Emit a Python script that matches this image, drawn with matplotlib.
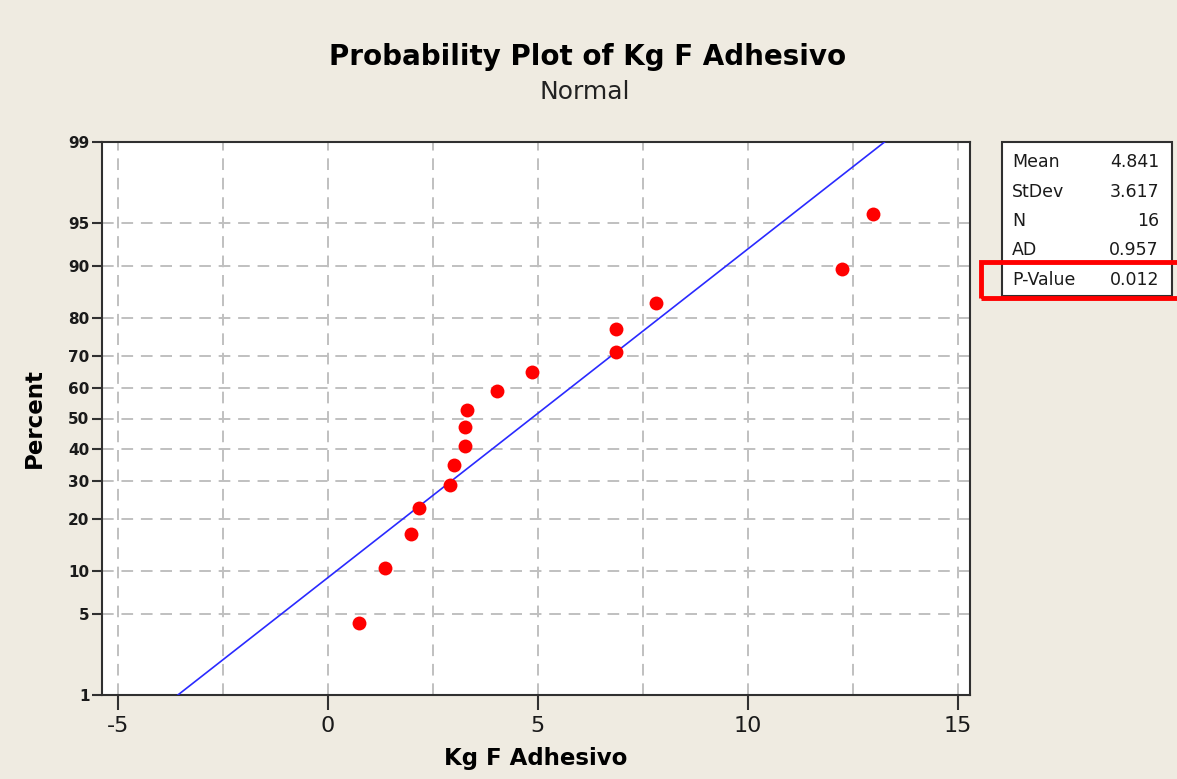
"""
Normal probability plot of Kg F Adhesivo (Minitab style) with summary box.
Writes out.png
"""

from statistics import NormalDist

import numpy as np
import matplotlib
matplotlib.use("Agg")
import matplotlib.pyplot as plt
from matplotlib.patches import Rectangle

# ---- data ----
kg_values = [0.74, 1.36, 1.98, 2.17, 2.90, 3.00, 3.26, 3.26,
             3.31, 4.02, 4.86, 6.85, 6.86, 7.81, 12.24, 12.98]
percent_values = [4.3, 10.4, 16.5, 22.6, 28.7, 34.8, 40.9, 47.0,
                  53.0, 59.1, 65.2, 71.3, 77.4, 83.5, 89.6, 95.7]

fit_mean = 4.841
fit_stdev = 3.617

stat_names = ["Mean", "StDev", "N", "AD", "P-Value"]
stat_values = ["4.841", "3.617", "16", "0.957", "0.012"]

y_ticks = [1, 5, 10, 20, 30, 40, 50, 60, 70, 80, 90, 95, 99]
x_ticks = [-5, 0, 5, 10, 15]
x_grid = [-5, -2.5, 0, 2.5, 5, 7.5, 10, 12.5, 15]

BG = "#efebe1"
W, H = 1177, 779

std = NormalDist()


def pct_to_z(p):
    return np.array([std.inv_cdf(v / 100.0) for v in np.atleast_1d(p)])


fig = plt.figure(figsize=(W / 100, H / 100), dpi=100, facecolor=BG)
plt.rcParams["font.family"] = ["DejaVu Sans"]

# axes box in pixels: x 102..970, y 142..695
ax = fig.add_axes([102 / W, 1 - 695 / H, (970 - 102) / W, (695 - 142) / H])
ax.set_facecolor("white")

z_lo, z_hi = pct_to_z([1, 99])
ax.set_xlim(-5.38, 15.29)
ax.set_ylim(z_lo, z_hi)

# grid
grid_kw = dict(color="#c0c0c0", lw=1.4, ls=(0, (6, 4)), zorder=1)
for gx in x_grid:
    ax.axvline(gx, **grid_kw)
for gy in pct_to_z(y_ticks[1:-1]):
    ax.axhline(gy, **grid_kw)

# fitted line from 1% to 99%
dist = NormalDist(fit_mean, fit_stdev)
fit_x = [dist.inv_cdf(0.01), dist.inv_cdf(0.99)]
ax.plot(fit_x, [z_lo, z_hi], color="#2a2aff", lw=1.2, zorder=3)

# data points
ax.plot(kg_values, pct_to_z(percent_values), "o", color="#ff0000",
        markersize=10, markeredgewidth=0, zorder=4)

ax.set_yticks(pct_to_z(y_ticks))
ax.set_yticklabels([str(v) for v in y_ticks])
ax.set_xticks(x_ticks)
ax.set_xticklabels([str(v) for v in x_ticks])
ax.tick_params(axis="y", length=7, width=1.5, labelsize=11, pad=2,
               colors="#303030", labelcolor="#1a1a1a")
for lab in ax.get_yticklabels():
    lab.set_fontweight("bold")
ax.tick_params(axis="x", length=11, width=1.5, labelsize=16, pad=4,
               colors="#303030", labelcolor="#1a1a1a")

for side in ["left", "bottom", "right", "top"]:
    ax.spines[side].set_color("#303030")
    ax.spines[side].set_linewidth(1.5)

ax.set_xlabel("Kg F Adhesivo", fontsize=16.5, fontweight="bold", labelpad=8)
ax.set_ylabel("Percent", fontsize=16.5, fontweight="bold", labelpad=16)

# titles
fig.text(588 / W, 1 - 57 / H, "Probability Plot of Kg F Adhesivo",
         ha="center", va="center", fontsize=20, fontweight="bold")
fig.text(585 / W, 1 - 92 / H, "Normal", ha="center", va="center",
         fontsize=18, color="#222222")

# summary box
box = Rectangle((1002 / W, 1 - 296 / H), (1172 - 1002) / W, (296 - 142) / H,
                transform=fig.transFigure, facecolor="white",
                edgecolor="#303030", lw=1.5)
fig.patches.append(box)
row_y = [162, 192, 221, 250, 280]
for name, val, ry in zip(stat_names, stat_values, row_y):
    fig.text(1012 / W, 1 - ry / H, name, ha="left", va="center",
             fontsize=12.5, color="#1a1a1a")
    fig.text(1159 / W, 1 - ry / H, val, ha="right", va="center",
             fontsize=12.5, color="#1a1a1a")

# red highlight around P-Value
hl = Rectangle((981 / W, 1 - 298 / H), (1200 - 981) / W, (298 - 262) / H,
               transform=fig.transFigure, facecolor="none",
               edgecolor="#ff0000", lw=3.5)
fig.patches.append(hl)

fig.savefig("out.png", dpi=100, facecolor=BG)
